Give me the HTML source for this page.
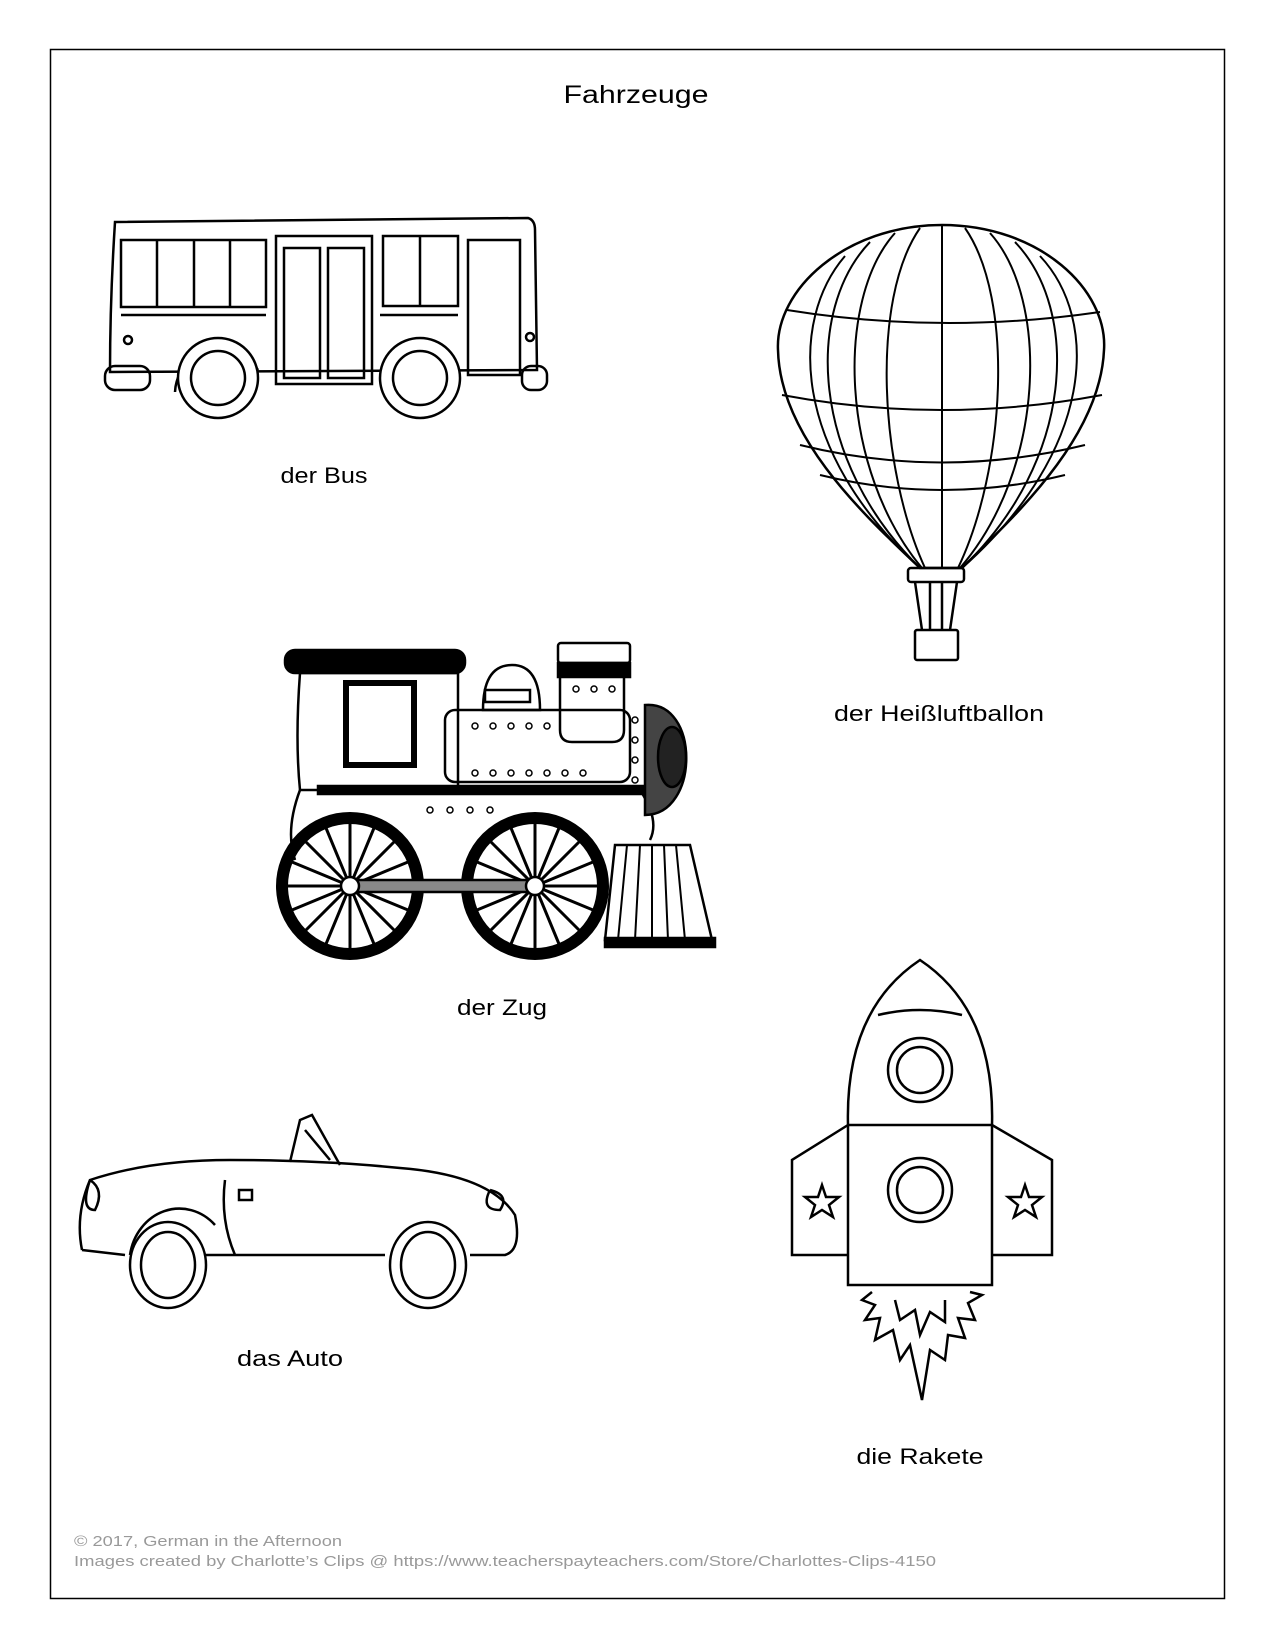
<!DOCTYPE html>
<html><head><meta charset="utf-8"><style>
html,body{margin:0;padding:0;background:#fff}
svg{display:block}
text{font-family:"Liberation Sans",sans-serif}
</style></head><body>
<svg width="1275" height="1650" viewBox="0 0 1275 1650" xmlns="http://www.w3.org/2000/svg">
<rect x="50.5" y="49.5" width="1174" height="1549" fill="none" stroke="#000" stroke-width="1.5"/>
<text x="636" y="103" font-size="25" text-anchor="middle" textLength="145" lengthAdjust="spacingAndGlyphs">Fahrzeuge</text>

<!-- BUS -->
<g fill="none" stroke="#000" stroke-width="2.5">
<path d="M115,222 L528,218 Q535,220 535,230 L537,370 L110,372 Q110,300 115,222Z" fill="#fff"/>
<rect x="121" y="240" width="145" height="67"/>
<line x1="157" y1="240" x2="157" y2="307"/><line x1="194" y1="240" x2="194" y2="307"/><line x1="230" y1="240" x2="230" y2="307"/>
<rect x="276" y="236" width="96" height="148"/><rect x="284" y="248" width="36" height="130"/><rect x="328" y="248" width="36" height="130"/>
<rect x="383" y="236" width="75" height="70"/><line x1="420" y1="236" x2="420" y2="306"/>
<rect x="468" y="240" width="52" height="135"/>
<line x1="121" y1="315" x2="266" y2="315"/><line x1="380" y1="315" x2="458" y2="315"/>
<circle cx="128" cy="340" r="4"/><circle cx="530" cy="337" r="4"/>
<rect x="105" y="366" width="45" height="24" rx="10"/><rect x="522" y="366" width="25" height="24" rx="9"/>
<path d="M175,392 A45,45 0 0 1 258,370"/>
<circle cx="218" cy="378" r="40" fill="#fff"/><circle cx="218" cy="378" r="27"/>
<circle cx="420" cy="378" r="40" fill="#fff"/><circle cx="420" cy="378" r="27"/>
</g>
<text x="324" y="483" font-size="22" text-anchor="middle" textLength="87" lengthAdjust="spacingAndGlyphs">der Bus</text>

<!-- BALLOON -->
<g fill="none" stroke="#000" stroke-width="2.5">
<path d="M942,225 C1040,225 1108,290 1104,350 C1100,440 1010,520 962,568 L920,568 C870,520 780,440 778,350 C775,290 845,225 942,225Z"/>
<g stroke-width="2">
<path d="M942,225 L942,568"/>
<path d="M920,228 C870,300 880,470 925,568"/><path d="M965,228 C1015,300 1005,470 958,568"/>
<path d="M895,233 C835,300 840,470 922,568"/><path d="M990,233 C1050,300 1045,470 960,568"/>
<path d="M870,242 C805,310 810,460 920,568"/><path d="M1015,242 C1080,310 1075,460 962,568"/>
<path d="M845,256 C790,320 790,450 920,568"/><path d="M1040,256 C1100,320 1095,450 962,568"/>
<path d="M787,310 Q942,335 1100,312"/><path d="M782,395 Q942,425 1102,395"/>
<path d="M800,445 Q942,480 1085,445"/><path d="M820,475 Q942,505 1065,475"/>
</g>
<rect x="908" y="568" width="56" height="14" rx="3"/>
<path d="M915,582 L922,630 M957,582 L950,630 M930,582 L930,630 M942,582 L942,630"/>
<rect x="915" y="630" width="43" height="30" rx="2"/>
</g>
<text x="939" y="721" font-size="22" text-anchor="middle" textLength="210" lengthAdjust="spacingAndGlyphs">der Heißluftballon</text>

<!-- TRAIN -->
<g fill="none" stroke="#000" stroke-width="2.5">
<rect x="285" y="650" width="180" height="23" rx="10" fill="#000"/>
<path d="M300,673 L458,673 L458,790 L300,790 Q295,740 300,673Z"/>
<rect x="346" y="683" width="68" height="82" stroke-width="6"/>
<path d="M483,710 Q483,665 512,665 Q540,665 540,710Z"/>
<rect x="485" y="690" width="45" height="12"/>
<rect x="445" y="710" width="185" height="72" rx="10"/>
<rect x="558" y="643" width="72" height="20" rx="3"/><rect x="558" y="663" width="72" height="14" fill="#000"/>
<path d="M560,677 L560,730 Q560,742 572,742 L612,742 Q624,742 624,730 L624,677"/>
<rect x="318" y="786" width="330" height="8" fill="#000"/>
<path d="M300,790 Q285,830 295,860 M458,790 L640,790 Q660,820 650,840"/>
<path d="M645,705 C700,700 700,815 645,815Z" fill="#444"/>
<ellipse cx="672" cy="757" rx="14" ry="30" fill="#222"/>
<path d="M615,845 L690,845 L712,940 L605,940Z" fill="#fff"/>
<path d="M627,845 L618,940 M640,845 L635,940 M652,845 L652,940 M664,845 L668,940 M676,845 L685,940" stroke-width="2"/>
<rect x="605" y="938" width="110" height="9" fill="#000"/>
<circle cx="350" cy="886" r="68" stroke-width="12"/><circle cx="535" cy="886" r="68" stroke-width="12"/>
<g stroke-width="3">
<path d="M350,823 L350,949 M287,886 L413,886 M305,841 L395,931 M395,841 L305,931 M326,828 L374,944 M374,828 L326,944 M292,862 L408,910 M292,910 L408,862"/>
<path d="M535,823 L535,949 M472,886 L598,886 M490,841 L580,931 M580,841 L490,931 M511,828 L559,944 M559,828 L511,944 M477,862 L593,910 M477,910 L593,862"/>
</g>
<rect x="350" y="880" width="185" height="12" fill="#888"/>
<circle cx="350" cy="886" r="9" fill="#fff"/><circle cx="535" cy="886" r="9" fill="#fff"/>
</g>
<g fill="#fff" stroke="#000" stroke-width="1.5">
<circle cx="475" cy="726" r="3"/><circle cx="493" cy="726" r="3"/><circle cx="511" cy="726" r="3"/><circle cx="529" cy="726" r="3"/><circle cx="547" cy="726" r="3"/>
<circle cx="475" cy="773" r="3"/><circle cx="493" cy="773" r="3"/><circle cx="511" cy="773" r="3"/><circle cx="529" cy="773" r="3"/><circle cx="547" cy="773" r="3"/><circle cx="565" cy="773" r="3"/><circle cx="583" cy="773" r="3"/>
<circle cx="576" cy="689" r="3"/><circle cx="594" cy="689" r="3"/><circle cx="612" cy="689" r="3"/>
<circle cx="635" cy="720" r="3"/><circle cx="635" cy="740" r="3"/><circle cx="635" cy="760" r="3"/><circle cx="635" cy="780" r="3"/>
<circle cx="430" cy="810" r="3"/><circle cx="450" cy="810" r="3"/><circle cx="470" cy="810" r="3"/><circle cx="490" cy="810" r="3"/>
</g>
<text x="502" y="1015" font-size="22" text-anchor="middle" textLength="90" lengthAdjust="spacingAndGlyphs">der Zug</text>

<!-- CAR -->
<g fill="none" stroke="#000" stroke-width="2.5">
<path d="M82,1250 Q75,1215 90,1180 Q150,1160 230,1160 Q320,1160 400,1168 Q490,1175 515,1215 Q522,1250 505,1255 L470,1255 M385,1255 L200,1255 M125,1255 Z"/>
<path d="M82,1250 L125,1255"/>
<path d="M90,1180 Q80,1210 95,1210 Q105,1190 90,1180"/>
<path d="M490,1190 Q480,1210 500,1210 Q510,1195 490,1190"/>
<path d="M290,1162 L300,1120 L312,1115 L340,1165 M305,1130 L330,1160"/>
<path d="M225,1180 Q220,1220 235,1255"/>
<rect x="239" y="1190" width="13" height="10"/>
<path d="M130,1255 A50,55 0 0 1 215,1225"/>
<ellipse cx="168" cy="1265" rx="38" ry="43" fill="#fff"/><ellipse cx="168" cy="1265" rx="27" ry="33"/>
<ellipse cx="428" cy="1265" rx="38" ry="43" fill="#fff"/><ellipse cx="428" cy="1265" rx="27" ry="33"/>
</g>
<text x="290" y="1366" font-size="22" text-anchor="middle" textLength="106" lengthAdjust="spacingAndGlyphs">das Auto</text>

<!-- ROCKET -->
<g fill="none" stroke="#000" stroke-width="2.5">
<path d="M848,1125 Q845,1010 920,960 Q995,1010 992,1125 L992,1285 L848,1285Z" fill="#fff"/>
<path d="M878,1015 Q920,1005 962,1015"/>
<line x1="848" y1="1125" x2="992" y2="1125"/>
<path d="M848,1125 L792,1160 L792,1255 L848,1255"/><path d="M992,1125 L1052,1160 L1052,1255 L992,1255"/>
<circle cx="920" cy="1070" r="32"/><circle cx="920" cy="1070" r="23"/>
<circle cx="920" cy="1190" r="32"/><circle cx="920" cy="1190" r="23"/>
<path d="M822,1185 L826,1197 L839,1197 L829,1205 L833,1217 L822,1210 L811,1217 L815,1205 L805,1197 L818,1197Z"/>
<path d="M1025,1185 L1029,1197 L1042,1197 L1032,1205 L1036,1217 L1025,1210 L1014,1217 L1018,1205 L1008,1197 L1021,1197Z"/>
<path d="M872,1292 L862,1300 L875,1305 L865,1320 L880,1318 L875,1340 L893,1330 L900,1360 L910,1345 L922,1400 L930,1350 L945,1360 L948,1335 L965,1338 L958,1318 L975,1320 L968,1303 L982,1295 L970,1292"/>
<path d="M895,1300 L900,1320 L915,1310 L920,1335 L930,1312 L945,1322 L945,1300"/>
</g>
<text x="920" y="1464" font-size="22" text-anchor="middle" textLength="127" lengthAdjust="spacingAndGlyphs">die Rakete</text>

<text x="74" y="1546" font-size="15" fill="#999" textLength="268" lengthAdjust="spacingAndGlyphs">© 2017, German in the Afternoon</text>
<text x="74" y="1566" font-size="15" fill="#999" textLength="862" lengthAdjust="spacingAndGlyphs">Images created by Charlotte’s Clips @ https://www.teacherspayteachers.com/Store/Charlottes-Clips-4150</text>
</svg>
</body></html>
